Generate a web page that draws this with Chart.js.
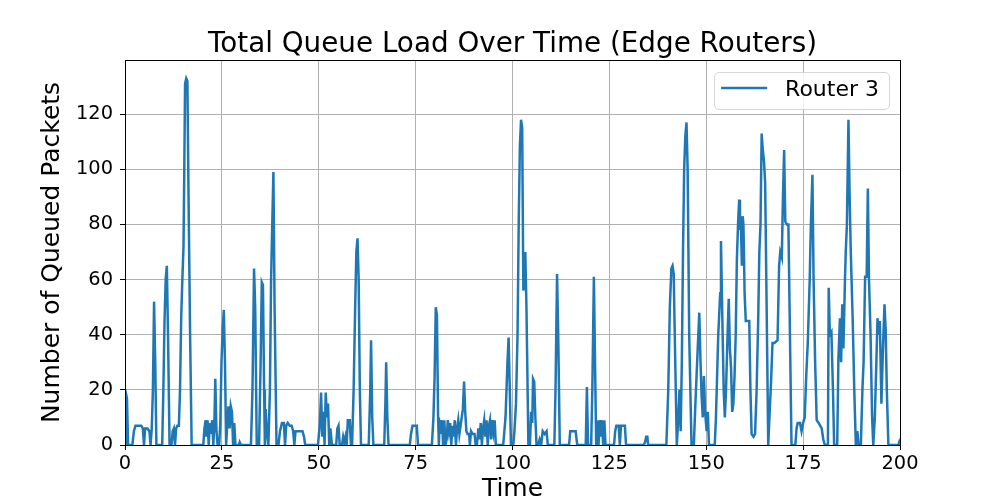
<!DOCTYPE html>
<html>
<head>
<meta charset="utf-8">
<script src="https://cdn.jsdelivr.net/npm/chart.js@4.4.0/dist/chart.umd.min.js"></script>
<style>
  html, body { margin: 0; padding: 0; background: #fff; }
  #wrap { width: 1000px; height: 500px; }
</style>
</head>
<body>
<div id="wrap"><canvas id="queueChart" width="1000" height="500"></canvas></div>
<script>
// time (x) and queued packets (y) in segments
const timeSteps = [
  0, 0.2, 0.5, 0.8, 1.9, 2.3, 2.7, 3.5, 4.2, 4.6, 4.9, 5.2, 5.8, 6.3, 6.6, 6.9,
  7.2, 7.5, 7.8, 8.1, 9.6, 9.9, 10.2, 10.5, 10.8, 11.1, 11.5, 12.0, 12.3, 12.6, 12.9, 13.2,
  13.5, 13.9, 14.2, 14.5, 14.8, 15.1, 15.3, 15.5, 15.8, 16.1, 16.4, 16.8, 17.2,
  20.2, 20.5, 20.8, 21.0, 21.3, 21.6, 21.9, 22.2, 22.5, 22.8, 23.1, 23.3, 23.6, 23.9, 24.3, 24.6,
  24.9, 25.2, 25.5, 25.8, 26.1, 26.4, 26.7, 27.0, 27.3, 27.6, 27.9, 28.2, 28.5, 29.4, 29.6, 29.9,
  32.5, 32.9, 33.3, 33.6, 34.0, 34.6, 35.0, 35.3, 35.6, 35.9, 36.1, 36.3, 36.6, 37.0, 37.4, 37.7,
  38.0, 38.3, 38.6, 39.1, 39.6, 40.0, 40.5, 41.0, 41.3, 41.6, 42.0, 42.5, 43.0, 43.4, 43.7, 44.0,
  44.6, 45.2, 45.8, 46.2, 46.5, 49.8, 50.3, 50.6, 50.9, 51.2, 51.5, 51.8, 52.1, 52.4, 52.7, 53.0,
  53.4, 54.5, 54.8, 55.1, 55.4, 56.0, 56.3, 56.6, 56.9, 57.2, 57.5, 58.0, 58.3, 58.6,
  59.0, 59.4, 59.7, 60.0, 60.3, 60.6, 60.9, 62.9, 63.3, 63.5, 63.8, 64.1, 66.9, 67.2, 67.4, 67.7, 68.0,
  73.5, 73.8, 74.2, 75.0, 75.3, 75.6, 79.2, 79.6, 79.9, 80.2, 80.5, 80.8, 81.0, 81.2, 81.5, 81.8,
  82.1, 82.4, 82.7, 83.0, 83.3, 83.6, 83.9, 84.2, 84.5, 84.8, 85.1, 85.4, 85.7, 86.0, 86.3, 86.8,
  87.2, 87.5, 87.8, 88.1, 88.4, 88.8, 89.0, 89.3, 89.7, 90.2, 90.5, 90.8, 91.2, 91.5, 91.8, 92.1,
  92.4, 92.7, 93.0, 93.3, 93.6, 93.9, 94.2, 94.5, 94.8, 95.1, 95.4, 95.7, 97.6, 98.2, 98.7, 99.0,
  99.3, 99.6, 100.2, 100.5, 100.9, 101.3, 101.6, 101.9, 102.2, 102.5, 102.8, 103.1, 103.3, 103.6, 104.1, 104.5,
  104.8, 105.1, 105.3, 105.6, 105.9, 106.2, 106.6, 107.0, 107.4, 107.8, 108.3, 108.8, 109.1, 110.8, 111.1, 111.5,
  111.8, 112.2, 114.6, 114.9, 115.5, 116.3, 116.7, 118.9, 119.2, 119.5, 120.3, 120.6, 121.0, 121.3, 121.6, 121.9,
  122.2, 122.5, 122.8, 123.1, 123.4, 123.7, 124.0, 126.2, 126.5, 126.8, 127.4, 127.7, 128.0, 128.6, 129.0, 129.3,
  133.9, 134.2, 134.5, 134.8, 135.0, 139.7, 140.2, 140.6, 141.0, 141.3, 141.6, 142.0, 142.4, 142.8, 143.1, 143.4,
  143.7, 144.0, 144.3, 144.6, 144.9, 145.2, 145.6, 146.2, 146.8, 147.2, 147.5, 147.8, 148.2, 148.5, 148.8, 149.1,
  149.4, 149.7, 150.1, 150.4, 150.7, 152.2, 152.5, 152.8, 153.1, 153.4, 153.6, 153.8, 154.1, 154.5, 154.8, 155.1,
  155.4, 155.8, 156.1, 156.4, 156.7, 157.0, 157.3, 157.6, 157.9, 158.2, 158.5, 158.7, 158.9, 159.2, 159.4, 159.6,
  159.9, 160.2, 160.6, 161.1, 161.4, 161.7, 162.2, 162.6, 163.0, 163.4, 163.7, 164.0, 164.3, 164.6, 164.9, 165.2,
  165.5, 166.0, 166.3, 166.7, 167.1, 167.6, 168.4, 168.8, 169.1, 169.5, 169.8, 170.1, 170.4, 170.8, 171.2, 171.6,
  172.0, 173.0, 173.3, 173.6, 174.2, 174.6, 175.0, 175.4, 175.8, 176.2, 176.7, 177.0, 177.4, 177.7, 178.1, 178.5,
  179.0, 179.4, 179.8, 180.2, 180.6, 181.4, 181.6, 181.9, 182.3, 182.7, 183.0, 183.8, 184.1, 184.5, 184.8, 185.1,
  185.4, 185.8, 186.0, 186.3, 186.7, 187.0, 187.3, 187.8, 188.2, 188.6, 189.0, 189.3, 189.9, 190.3, 190.6, 191.0,
  191.4, 191.7, 192.0, 192.4, 192.8, 193.1, 193.5, 193.9, 194.2, 194.5, 194.8, 195.2, 195.6, 196.0, 196.3, 196.6,
  197.0, 199.6, 199.8, 200
];
const queueLoad = [
  0, 19, 17, 0, 0, 5, 7, 7, 7, 6, 0, 6, 6, 5, 0, 6,
  20, 52, 30, 0, 0, 20, 45, 60, 65, 40, 0, 0, 5, 6, 0, 6,
  7, 7, 20, 46, 60, 72, 100, 131, 133, 132, 90, 40, 0,
  0, 6, 9, 3, 9, 0, 8, 4, 9, 0, 10, 24, 5, 0, 0, 8,
  30, 42, 49, 30, 0, 8, 14, 6, 14, 12, 0, 8, 0, 0, 1, 0,
  0, 20, 64, 50, 0, 0, 30, 59, 58, 20, 0, 13, 5, 0, 20, 60,
  80, 99, 50, 0, 0, 5, 8, 8, 0, 7, 8, 7, 7, 5, 0, 5,
  5, 5, 5, 3, 0, 0, 8, 19, 3, 12, 0, 19, 10, 15, 0, 6,
  0, 0, 6, 7, 0, 0, 3, 1, 3, 0, 9, 9, 0, 0,
  20, 50, 70, 75, 60, 20, 0, 0, 20, 38, 10, 0, 0, 15, 30, 10, 0,
  0, 4, 7, 7, 7, 0, 0, 10, 25, 50, 47, 10, 0, 9, 4, 9,
  0, 9, 0, 2, 9, 5, 8, 0, 7, 3, 9, 0, 6, 9, 4, 9,
  13, 23, 12, 5, 4, 4, 0, 5, 4, 4, 0, 0, 6, 2, 8, 0,
  6, 9, 3, 9, 0, 7, 9, 2, 9, 5, 9, 0, 0, 10, 30, 39,
  20, 0, 0, 5, 15, 40, 80, 108, 118, 115, 56, 60, 70, 50, 0, 0,
  12, 8, 24, 23, 10, 0, 0, 2, 0, 5, 4, 5, 0, 0, 20, 62,
  40, 0, 0, 5, 5, 5, 0, 0, 21, 0, 0, 20, 61, 30, 0, 9,
  0, 9, 3, 9, 0, 9, 0, 0, 5, 7, 7, 0, 7, 7, 7, 0,
  0, 1, 3, 3, 0, 0, 20, 50, 64, 65, 62, 30, 0, 10, 20, 5,
  30, 70, 100, 112, 117, 100, 40, 0, 0, 15, 25, 35, 48, 31, 18, 10,
  25, 12, 5, 12, 0, 0, 10, 25, 40, 49, 55, 74, 50, 20, 10, 20,
  35, 53, 35, 28, 12, 15, 25, 40, 67, 80, 89, 78, 83, 65, 83, 80,
  55, 45, 45, 45, 20, 4, 3, 4, 20, 45, 70, 80, 113, 107, 103, 95,
  60, 0, 10, 22, 37, 37, 38, 65, 70, 68, 90, 107, 81, 80, 80, 40,
  0, 0, 6, 8, 8, 5, 8, 10, 25, 37, 60, 80, 98, 60, 30, 9,
  8, 7, 6, 2, 0, 0, 57, 40, 41, 20, 0, 0, 31, 46, 30, 51,
  35, 60, 70, 80, 118, 90, 70, 45, 20, 0, 5, 0, 0, 20, 30, 61,
  61, 93, 60, 40, 10, 0, 10, 30, 46, 40, 45, 15, 35, 51, 42, 20,
  0, 0, 1, 0
];
const xTickValues = [0, 25, 50, 75, 100, 125, 150, 175, 200];
const yTickValues = [0, 20, 40, 60, 80, 100, 120];
const seriesLabel = 'Router 3';
const chartTitle = 'Total Queue Load Over Time (Edge Routers)';

if (timeSteps.length !== queueLoad.length) {
  console.error('length mismatch', timeSteps.length, queueLoad.length);
}

const FONT = "'DejaVu Sans', sans-serif";
const LINE_COLOR = '#1f77b4';

// full box round the plot, like matplotlib spines
const frameBox = {
  id: 'frameBox',
  afterDatasetsDraw(chart) {
    const { ctx, chartArea: a } = chart;
    ctx.save();
    ctx.strokeStyle = '#000';
    ctx.lineWidth = 1;
    ctx.strokeRect(Math.round(a.left) + 0.5, Math.round(a.top) + 0.5,
      Math.round(a.right - a.left), Math.round(a.bottom - a.top));
    ctx.restore();
  }
};

// title centred over the plot area, not the whole canvas
const plotTitle = {
  id: 'plotTitle',
  afterDraw(chart) {
    const { ctx, chartArea: a } = chart;
    ctx.save();
    ctx.font = '27.8px ' + FONT;
    ctx.fillStyle = '#000';
    ctx.textAlign = 'center';
    ctx.textBaseline = 'alphabetic';
    ctx.fillText(chartTitle, (a.left + a.right) / 2, a.top - 8);
    ctx.restore();
  }
};

// boxed legend in the upper right corner
const boxLegend = {
  id: 'boxLegend',
  afterDraw(chart) {
    const { ctx, chartArea: a } = chart;
    const ds = chart.data.datasets[0];
    ctx.save();
    ctx.font = '22px ' + FONT;
    const textW = ctx.measureText(ds.label).width;
    const right = a.right - 11;
    const top = a.top + 12;
    const h = 37;
    const left = right - (7 + 46 + 18 + textW + 10);
    const r = 4.5;
    ctx.beginPath();
    ctx.roundRect(left + 0.5, top + 0.5, right - left, h, r);
    ctx.fillStyle = 'rgba(255,255,255,0.8)';
    ctx.fill();
    ctx.strokeStyle = 'rgba(204,204,204,0.8)';
    ctx.lineWidth = 1;
    ctx.stroke();
    ctx.beginPath();
    ctx.moveTo(left + 7, top + 16);
    ctx.lineTo(left + 53, top + 16);
    ctx.strokeStyle = ds.borderColor;
    ctx.lineWidth = ds.borderWidth;
    ctx.stroke();
    ctx.fillStyle = '#000';
    ctx.textBaseline = 'alphabetic';
    ctx.fillText(ds.label, left + 71, top + 24);
    ctx.restore();
  }
};

const ctx = document.getElementById('queueChart').getContext('2d');
new Chart(ctx, {
  type: 'line',
  data: {
    datasets: [{
      label: seriesLabel,
      data: timeSteps.map((t, i) => ({ x: t, y: queueLoad[i] })),
      borderColor: LINE_COLOR,
      borderWidth: 2.5,
      pointRadius: 0,
      tension: 0,
      fill: false
    }]
  },
  options: {
    responsive: false,
    animation: false,
    devicePixelRatio: 1,
    layout: { padding: { left: 0, right: 100, top: 60, bottom: 0 } },
    plugins: {
      legend: { display: false },
      tooltip: { enabled: false },
      title: { display: false }
    },
    scales: {
      x: {
        type: 'linear',
        min: 0,
        max: 200,
        afterBuildTicks: s => { s.ticks = xTickValues.map(v => ({ value: v })); },
        afterFit: s => { s.height = 55; },
        ticks: { color: '#000', font: { family: FONT, size: 19.4 }, padding: 2, maxRotation: 0, autoSkip: false },
        grid: { color: '#b0b0b0', lineWidth: 1, tickColor: '#000', tickLength: 5 },
        border: { color: '#000', width: 1 },
        title: {
          display: true, text: 'Time', color: '#000',
          font: { family: FONT, size: 25, lineHeight: 1 },
          padding: { top: 0, bottom: -2 }
        }
      },
      y: {
        type: 'linear',
        min: 0,
        max: 139.65,
        afterBuildTicks: s => { s.ticks = yTickValues.map(v => ({ value: v })); },
        afterFit: s => { s.width = 125; },
        ticks: { color: '#000', font: { family: FONT, size: 19.4 }, padding: 7 },
        grid: { color: '#b0b0b0', lineWidth: 1, tickColor: '#000', tickLength: 5 },
        border: { color: '#000', width: 1 },
        title: {
          display: true, text: 'Number of Queued Packets', color: '#000',
          font: { family: FONT, size: 25, lineHeight: 1 },
          padding: { top: 40, bottom: 0 }
        }
      }
    }
  },
  plugins: [frameBox, plotTitle, boxLegend]
});
</script>
</body>
</html>
